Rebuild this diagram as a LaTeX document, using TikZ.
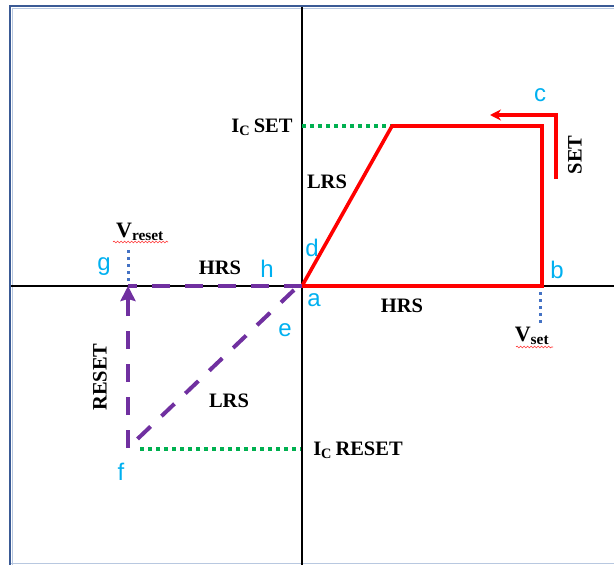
\documentclass[tikz,border=0pt]{standalone}
\usepackage{fontspec}
\setmainfont{Liberation Serif}
\newfontfamily\lab{Liberation Sans}
\usetikzlibrary{arrows.meta,decorations.pathmorphing}
\definecolor{frameblue}{HTML}{3A5A95}
\definecolor{lightframe}{HTML}{B8C8E0}
\definecolor{cyanlab}{HTML}{00B0F0}
\definecolor{ptpurple}{HTML}{7030A0}
\definecolor{dotgreen}{HTML}{00B050}
\definecolor{dotblue}{HTML}{4472C4}
\tikzset{
  axis/.style={line width=2pt,black},
  redline/.style={line width=3.6pt,red},
  purp/.style={line width=4pt,ptpurple,dash pattern=on 18pt off 15pt},
  gdot/.style={line width=3.4pt,dotgreen,dash pattern=on 3.5pt off 4.5pt},
  bdot/.style={line width=3pt,dotblue,dash pattern=on 3pt off 4pt},
  lbl/.style={font=\bfseries\fontsize{20.5}{23}\selectfont,inner sep=1pt},
  ltr/.style={font=\lab\fontsize{24}{26}\selectfont,text=cyanlab,inner sep=1pt},
  squig/.style={red!80,line width=0.6pt,decorate,decoration={snake,amplitude=0.9pt,segment length=3.5pt}}
}
\begin{document}
\begin{tikzpicture}[x=1pt,y=-1pt]
\useasboundingbox (0,0) rectangle (614,565);
% frame
\draw[lightframe,line width=1pt] (10,563) -- (614,563);
\draw[frameblue,line width=2pt] (10,565) -- (10,5.5) -- (614,5.5);
\draw[lightframe,line width=0.8pt] (12,565) -- (12,8) -- (614,8);
% axes
\coordinate (vt) at (302,7);
\coordinate (vb) at (302,565);
\coordinate (hl) at (11,286);
\coordinate (hr) at (614,286);
\draw[axis] (vt) -- (vb);
\draw[axis] (hl) -- (hr);
% key points
\coordinate (a) at (302,286);
\coordinate (tl) at (392,126);
\coordinate (tr) at (542,126);
\coordinate (br) at (542,286);
\coordinate (ica) at (302,126);
\coordinate (sa) at (556,179);
\coordinate (sb) at (556,115);
\coordinate (sc) at (490,115);
\coordinate (g) at (128,286);
\coordinate (f) at (128,448);
\coordinate (e0) at (294,290);
\coordinate (icr0) at (140,449);
\coordinate (icr1) at (301,449);
\coordinate (vs0) at (540,292);
\coordinate (vs1) at (540,326);
\coordinate (vr0) at (128,250);
\coordinate (vr1) at (128,283);
% green dotted
\draw[gdot] (ica) -- (tl);
\draw[gdot] (icr0) -- (icr1);
% blue dotted
\draw[bdot] (vs0) -- (vs1);
\draw[bdot] (vr0) -- (vr1);
% red
\draw[redline,line join=miter] (a) -- (tl) -- (tr) -- (br) -- cycle;
\draw[redline,-{Stealth[length=11pt,width=11pt]}] (sa) -- (sb) -- (sc);
% purple
\draw[purp] (a) -- (g);
\draw[purp] (e0) -- (f);
\draw[purp,-{Stealth[length=15pt,width=15pt,inset=2pt]}] (f) -- (g);
% text labels
\node[lbl] (icset) at (262,127) {I\textsubscript{C}\,SET};
\node[lbl] (lrs1) at (327,182) {LRS};
\node[lbl,rotate=90] (set) at (575,155) {SET};
\node[lbl] (hrs1) at (402,306) {HRS};
\node[lbl] (hrs2) at (220,268) {HRS};
\node[lbl,rotate=90] (reset) at (100,377) {RESET};
\node[lbl] (lrs2) at (229,401) {LRS};
\node[lbl] (icreset) at (358,450) {I\textsubscript{C}\,RESET};
\node[lbl,font=\bfseries\fontsize{22}{24}\selectfont] (vset) at (532,336) {V\textsubscript{set}};
\node[lbl,font=\bfseries\fontsize{22}{24}\selectfont] (vreset) at (140,232) {V\textsubscript{reset}};
\draw[squig] (516,347) -- (553,347);
\draw[squig] (113,242) -- (168,242);
% letters
\node[ltr] (la) at (314,300) {a};
\node[ltr] (lb) at (557,270) {b};
\node[ltr] (lc) at (540,95) {c};
\node[ltr] (ld) at (312,248) {d};
\node[ltr] (le) at (285,330) {e};
\node[ltr] (lf) at (121,472) {f};
\node[ltr] (lg) at (104,267) {g};
\node[ltr] (lh) at (267,269) {h};
\end{tikzpicture}
\end{document}
